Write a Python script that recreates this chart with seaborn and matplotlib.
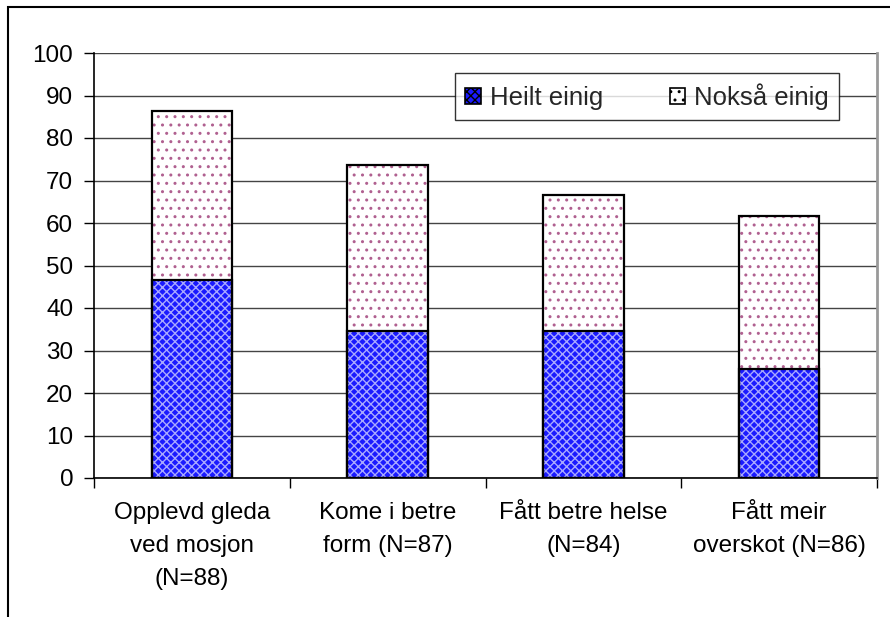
import matplotlib
matplotlib.use("Agg")
import matplotlib.pyplot as plt
import seaborn as sns
import pandas as pd
from matplotlib.patches import Rectangle, Patch

categories = ["Opplevd gleda\nved mosjon\n(N=88)", "Kome i betre\nform (N=87)",
              "Fått betre helse\n(N=84)", "Fått meir\noverskot (N=86)"]
heilt_einig = [46.6, 34.5, 34.5, 25.6]
noksaa_einig = [39.8, 39.1, 32.1, 36.0]
series_names = ["Heilt einig", "Nokså einig"]
yticks = list(range(0, 101, 10))

df = pd.DataFrame({"cat": categories, "heilt": heilt_einig, "noksa": noksaa_einig})
df["total"] = df["heilt"] + df["noksa"]

sns.set_theme(style="white")
plt.rcParams["font.family"] = ["Liberation Sans", "DejaVu Sans"]
plt.rcParams["hatch.linewidth"] = 1.0

fig = plt.figure(figsize=(8.9, 6.17), dpi=100)
ax = fig.add_axes([94/890, 1-478/617, (877-94)/890, (478-53)/617])

W = 0.41
blue = "#1a1aff"
hatch_blue = "#a8a8ff"
dot_col = "#b06090"

# fills with hatching
sns.barplot(data=df, x="cat", y="total", order=categories, color="white", width=W,
            saturation=1, ax=ax, hatch="..", edgecolor=dot_col, linewidth=0, zorder=2)
sns.barplot(data=df, x="cat", y="heilt", order=categories, color=blue, width=W,
            saturation=1, ax=ax, hatch="xxxx", edgecolor=hatch_blue, linewidth=0, zorder=3)
# outlines
sns.barplot(data=df, x="cat", y="total", order=categories, fill=False, width=W,
            ax=ax, edgecolor="black", linewidth=1.6, zorder=4)
sns.barplot(data=df, x="cat", y="heilt", order=categories, fill=False, width=W,
            ax=ax, edgecolor="black", linewidth=1.6, zorder=5)

ax.set_ylim(0, 100)
ax.set_xlim(-0.5, len(categories) - 0.5)
ax.set_yticks(yticks)
ax.set_yticklabels([str(v) for v in yticks], fontsize=17.5)
ax.yaxis.grid(True, color="#444444", linewidth=1.0, zorder=0)
ax.set_axisbelow(True)
ax.tick_params(axis="y", which="major", left=True, length=7, width=1, color="black",
               direction="out", pad=8, labelcolor="black")
ax.set_xticks(range(len(categories)))
ax.set_xticklabels(categories, fontsize=17.5, linespacing=1.65)
ax.set_xticks([i - 0.5 for i in range(len(categories) + 1)], minor=True)
ax.tick_params(axis="x", which="major", length=0, pad=17, labelcolor="black")
ax.tick_params(axis="x", which="minor", bottom=True, length=7, width=1, color="black",
               direction="out")
ax.set_xlabel("")
ax.set_ylabel("")

for s in ["left", "bottom"]:
    ax.spines[s].set_visible(True)
    ax.spines[s].set_color("black")
    ax.spines[s].set_linewidth(1.2)
ax.spines["top"].set_visible(False)
ax.spines["right"].set_color("#999999")
ax.spines["right"].set_linewidth(2)

handles = [Patch(facecolor=blue, edgecolor=hatch_blue, hatch="xxxx", linewidth=0),
           Patch(facecolor="white", edgecolor=dot_col, hatch="..", linewidth=0)]
leg = ax.legend(handles, series_names, ncol=2, fontsize=18.5, loc="upper left",
                bbox_to_anchor=((455-94)/783, 1-(73-53)/425), borderaxespad=0,
                frameon=True, fancybox=False, shadow=False, handlelength=0.6,
                handleheight=0.6, handletextpad=0.35, columnspacing=2.6,
                borderpad=0.4)
leg.get_frame().set_edgecolor("black")
leg.get_frame().set_linewidth(1.0)
for h in leg.legend_handles:
    h.set_edgecolor("black")
    h.set_linewidth(1.2)

fig.patches.append(Rectangle((8/890, -0.1), 1.2, 1 - 7/617 + 0.1, transform=fig.transFigure,
                             fill=False, edgecolor="black", linewidth=1.5))

fig.savefig("out.png", dpi=100, facecolor="white")
